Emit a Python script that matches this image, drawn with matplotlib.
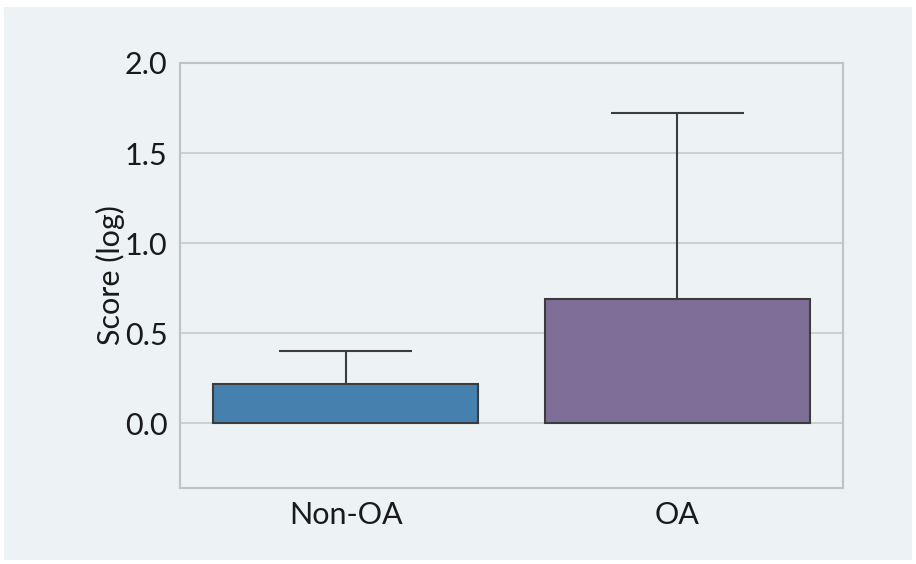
import matplotlib
matplotlib.use("Agg")
import matplotlib.pyplot as plt
from matplotlib.patches import Rectangle

groups = ["Non-OA", "OA"]
means = [0.22, 0.69]
upper_err = [0.18, 1.03]
bar_colors = ["#4580ae", "#7f6e97"]
yticks = [0.0, 0.5, 1.0, 1.5, 2.0]

plt.rcParams["font.family"] = ["Lato", "DejaVu Sans"]

fig = plt.figure(figsize=(9.16, 5.64), dpi=100, facecolor="white")
W, H = 916, 564
fig.patches.append(Rectangle((4 / W, 4 / H), 908 / W, 553 / H,
                             transform=fig.transFigure, facecolor="#edf2f5",
                             edgecolor="none", zorder=-10))

ax = fig.add_axes([180 / W, 1 - 488 / H, 663 / W, 425 / H])
ax.set_facecolor("#edf2f5")

x = list(range(len(groups)))
ax.bar(x, means, width=0.8, color=bar_colors, edgecolor="#3c3c3c",
       linewidth=1.5, zorder=3)
tops = [m + e for m, e in zip(means, upper_err)]
ax.vlines(x, means, tops, color="#3c3c3c", linewidth=1.5, zorder=2)
ax.hlines(tops, [xi - 0.2 for xi in x], [xi + 0.2 for xi in x],
          color="#3c3c3c", linewidth=1.5, zorder=2)

ax.set_xlim(-0.5, 1.5)
ax.set_ylim(-0.36, 2.0)
ax.set_yticks(yticks)
ax.set_yticklabels([f"{t:.1f}" for t in yticks])
ax.set_xticks(x)
ax.set_xticklabels(groups)
ax.tick_params(axis="both", length=0, labelsize=22, colors="#1a1a1a")
ax.tick_params(axis="y", pad=9)
ax.tick_params(axis="x", pad=9)
ax.grid(axis="y", color="#c6cacd", linewidth=1.2, zorder=0)
ax.set_axisbelow(True)
for s in ax.spines.values():
    s.set_color("#bfc3c6")
    s.set_linewidth(1.5)
ax.set_ylabel("Score (log)", fontsize=22, color="#1a1a1a", labelpad=0)

fig.savefig("out.png", dpi=100, facecolor="white")
